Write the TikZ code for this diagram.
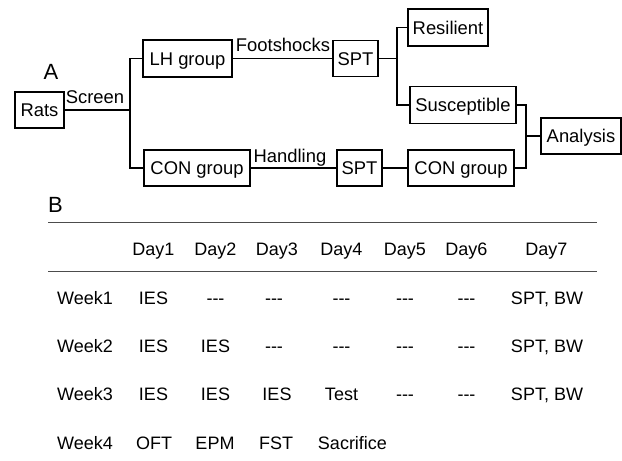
\documentclass[tikz,border=0pt]{standalone}
\usepackage{fontspec}
\newfontfamily\arialfont{Liberation Sans}
\newcommand\diagfont{\arialfont\fontsize{18.4}{22}\selectfont}
\newcommand\tabfont{\arialfont\fontsize{18}{22}\selectfont}
\newcommand\panelfont{\arialfont\fontsize{22}{26}\selectfont}
\begin{document}
\begin{tikzpicture}[x=1pt,y=-1pt,
  box/.style={draw, line width=1.1pt, inner sep=0pt, text height=13.2pt,
              text depth=0pt, font=\diagfont},
  lbl/.style={anchor=base, inner sep=0pt, font=\diagfont},
  cell/.style={anchor=base, inner sep=0pt, font=\tabfont},
  panel/.style={anchor=base, inner sep=0pt, font=\panelfont},
  wire/.style={line width=1.1pt},
  rule/.style={line width=0.9pt, draw=black!70}]
\useasboundingbox (0,0) rectangle (622,461);

% ---------- Panel A: flow of the groups ----------
\node[panel] (pa) at (51,79) {A};

\node[box, minimum width=49pt,  minimum height=36pt] (rats) at (39.5,110)  {Rats};
\node[box, minimum width=89pt,  minimum height=37pt] (lh)   at (187.5,58.5) {LH group};
\node[box, minimum width=106pt, minimum height=36pt] (con1) at (197,168)   {CON group};
\node[box, minimum width=45pt,  minimum height=36pt] (spt1) at (355.5,58.5) {SPT};
\node[box, minimum width=80pt,  minimum height=37pt] (res)  at (448,27.5)  {Resilient};
\node[box, minimum width=106pt, minimum height=37pt] (sus)  at (463,105)   {Susceptible};
\node[box, minimum width=45pt,  minimum height=36pt] (spt2) at (359.5,168) {SPT};
\node[box, minimum width=106pt, minimum height=36pt] (con2) at (461,168)   {CON group};
\node[box, minimum width=80pt,  minimum height=36pt] (ana)  at (581,136)   {Analysis};

\node[lbl] (lscreen) at (95,103.3) {Screen};
\node[lbl] (lfoot)   at (283,51.5) {Footshocks};
\node[lbl] (lhand)   at (290,162)  {Handling};

\coordinate (j1) at (130,110);
\coordinate (j2) at (397,58.5);
\coordinate (j3) at (526,136);

\draw[wire] (rats.east) -- (j1);
\draw[wire] (lh.west) -| (j1) |- (con1.west);
\draw[wire] (lh.east) -- (spt1.west);
\draw[wire] (spt1.east) -- (j2);
\draw[wire] (res.west) -| (j2) |- (sus.west);
\draw[wire] (con1.east) -- (spt2.west);
\draw[wire] (spt2.east) -- (con2.west);
\draw[wire] (sus.east) -| (j3) |- (con2.east);
\draw[wire] (ana.west) -- (j3);

% ---------- Panel B: weekly schedule ----------
\node[panel] (pb) at (55.5,212) {B};

\coordinate (r1a) at (48,222.3);  \coordinate (r1b) at (597,222.3);
\coordinate (r2a) at (48,271);    \coordinate (r2b) at (597,271);
\draw[rule] (r1a) -- (r1b);
\draw[rule] (r2a) -- (r2b);

% header row
\node[cell] (d1) at (153.5,255) {Day1};
\node[cell] (d2) at (215.5,255) {Day2};
\node[cell] (d3) at (277,255)   {Day3};
\node[cell] (d4) at (341.5,255) {Day4};
\node[cell] (d5) at (405,255)   {Day5};
\node[cell] (d6) at (466.5,255) {Day6};
\node[cell] (d7) at (546.5,255) {Day7};

% week 1
\node[cell] (w1)   at (85,304)    {Week1};
\node[cell] (w1d1) at (153.5,304) {IES};
\node[cell] (w1d2) at (215.5,304) {---};
\node[cell] (w1d3) at (274,304)   {---};
\node[cell] (w1d4) at (341.5,304) {---};
\node[cell] (w1d5) at (405,304)   {---};
\node[cell] (w1d6) at (466.5,304) {---};
\node[cell] (w1d7) at (547,304)   {SPT, BW};

% week 2
\node[cell] (w2)   at (85,352.3)    {Week2};
\node[cell] (w2d1) at (153.5,352.3) {IES};
\node[cell] (w2d2) at (215.5,352.3) {IES};
\node[cell] (w2d3) at (274,352.3)   {---};
\node[cell] (w2d4) at (341.5,352.3) {---};
\node[cell] (w2d5) at (405,352.3)   {---};
\node[cell] (w2d6) at (466.5,352.3) {---};
\node[cell] (w2d7) at (547,352.3)   {SPT, BW};

% week 3
\node[cell] (w3)   at (85,400.7)    {Week3};
\node[cell] (w3d1) at (153.5,400.7) {IES};
\node[cell] (w3d2) at (215.5,400.7) {IES};
\node[cell] (w3d3) at (277,400.7)   {IES};
\node[cell] (w3d4) at (341.5,400.7) {Test};
\node[cell] (w3d5) at (405,400.7)   {---};
\node[cell] (w3d6) at (466.5,400.7) {---};
\node[cell] (w3d7) at (547,400.7)   {SPT, BW};

% week 4
\node[cell] (w4)   at (85,449.3)    {Week4};
\node[cell] (w4d1) at (154,449.3)   {OFT};
\node[cell] (w4d2) at (215,449.3)   {EPM};
\node[cell] (w4d3) at (276,449.3)   {FST};
\node[cell] (w4d4) at (352.5,449.3) {Sacrifice};
\end{tikzpicture}
\end{document}
